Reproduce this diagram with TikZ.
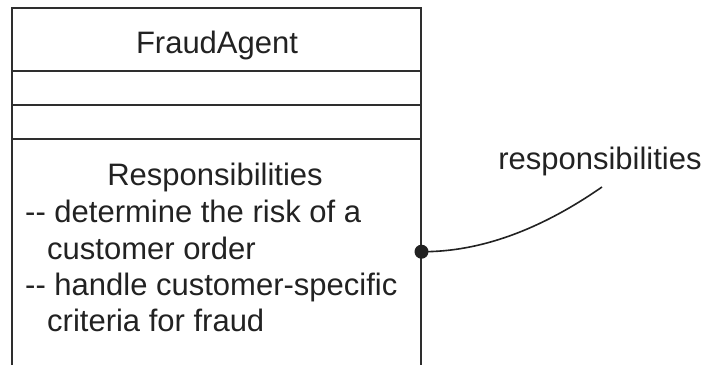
\documentclass[tikz,border=0pt]{standalone}
\usepackage{fontspec}
\setmainfont{Liberation Sans}
\definecolor{ink}{HTML}{222222}
\definecolor{rule}{HTML}{2E2E2E}
\tikzset{
  umlline/.style={draw=rule, line width=1.9pt},
  txt/.style={inner sep=0pt, text=ink, font=\fontsize{31}{37}\selectfont},
  txtl/.style={txt, anchor=base west},
  txtc/.style={txt, anchor=base},
  pin/.style={circle, fill=ink, inner sep=0pt, minimum size=14pt},
  leader/.style={draw=ink, line width=1.6pt}
}
\begin{document}
\begin{tikzpicture}[x=1pt, y=-1pt]
  \useasboundingbox (0,0) rectangle (707,365);
  % class box, open at the bottom
  \draw[umlline] (12,365) -- (12,8) -- (421,8) -- (421,365);
  \draw[umlline] (12,71) -- (421,71);
  \draw[umlline] (12,105) -- (421,105);
  \draw[umlline] (12,139) -- (421,139);
  % name compartment
  \node[txtc] (name) at (217,53) {FraudAgent};
  % responsibilities compartment
  \node[txtc] (resp) at (215,185) {Responsibilities};
  \node[txtl] (r1) at (25,222.7) {-{}- determine the risk of a};
  \node[txtl] (r2) at (47,259.5) {customer order};
  \node[txtl] (r3) at (25,295.5) {-{}- handle customer-specific};
  \node[txtl] (r4) at (47,331.7) {criteria for fraud};
  % annotation
  \node[pin] (dot) at (421.5,251.7) {};
  \node[txtc] (lbl) at (600,169) {responsibilities};
  \coordinate (tip) at (602,187);
  \draw[leader] (dot.center) .. controls (480,252) and (540,230) .. (tip);
\end{tikzpicture}
\end{document}
